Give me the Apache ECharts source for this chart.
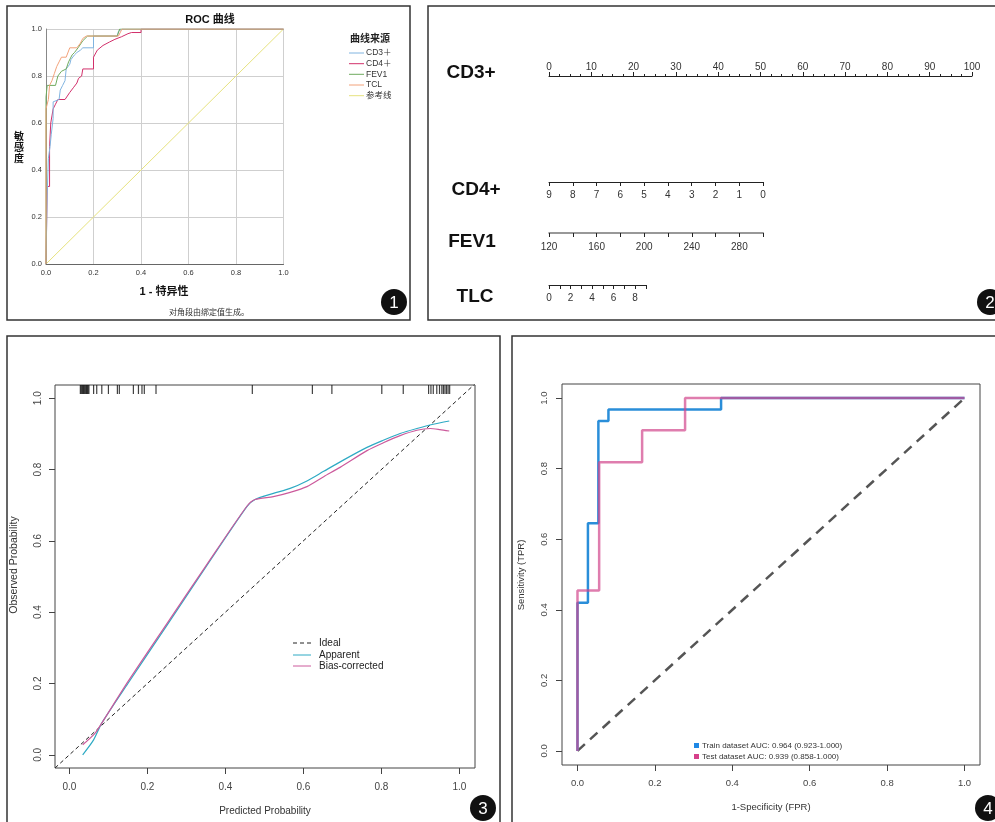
<!DOCTYPE html>
<html><head><meta charset="utf-8">
<script src="https://cdn.jsdelivr.net/npm/echarts@6/dist/echarts.min.js"></script>
<style>html,body{margin:0;padding:0;background:#fff}#c{width:995px;height:822px}</style>
</head><body><div id="c"></div>
<script>
// ---------- Panel 1: SPSS ROC curves ----------
const rocTicks = [0, 0.2, 0.4, 0.6, 0.8, 1.0];
const rocNames = ['CD3＋', 'CD4＋', 'FEV1', 'TCL', '参考线'];
const rocCD3 = [[0,0],[0.005,0.3],[0.01,0.45],[0.017,0.5],[0.022,0.55],[0.03,0.62],[0.03,0.69],[0.055,0.7],[0.06,0.74],[0.07,0.76],[0.08,0.78],[0.085,0.83],[0.1,0.85],[0.105,0.87],[0.12,0.89],[0.13,0.9],[0.145,0.91],[0.155,0.92],[0.2,0.92],[0.2,0.97],[0.3,0.97],[0.305,0.99],[0.32,1],[1,1]];
const rocCD4 = [[0,0],[0.005,0],[0.005,0.33],[0.015,0.33],[0.015,0.5],[0.02,0.6],[0.025,0.63],[0.03,0.66],[0.04,0.68],[0.05,0.7],[0.08,0.7],[0.1,0.73],[0.115,0.75],[0.13,0.77],[0.137,0.79],[0.15,0.8],[0.155,0.83],[0.2,0.83],[0.2,0.88],[0.216,0.91],[0.24,0.93],[0.268,0.945],[0.29,0.956],[0.318,0.967],[0.345,0.98],[0.36,0.985],[0.4,0.985],[0.4,1],[1,1]];
const rocFEV1 = [[0,0],[0,0.71],[0.005,0.71],[0.005,0.76],[0.04,0.76],[0.05,0.8],[0.065,0.82],[0.085,0.83],[0.095,0.86],[0.11,0.89],[0.12,0.9],[0.135,0.92],[0.155,0.95],[0.175,0.97],[0.3,0.97],[0.31,1],[1,1]];
const rocTCL = [[0,0],[0,0.66],[0.01,0.7],[0.015,0.76],[0.025,0.78],[0.035,0.81],[0.045,0.84],[0.055,0.86],[0.065,0.88],[0.085,0.88],[0.1,0.92],[0.13,0.92],[0.145,0.94],[0.155,0.96],[0.17,0.97],[0.305,0.97],[0.32,1],[1,1]];
const rocRef = [[0,0],[1,1]];

// ---------- Panel 2: nomogram scales ----------
const nomoNames = ['CD3+', 'CD4+', 'FEV1', 'TLC'];
const cd3Range = [0, 100];
const cd4Range = [0, 9];
const fev1Range = [120, 300];
const fev1Labels = [120, 160, 200, 240, 280];
const tlcRange = [0, 9];
const tlcLabels = [0, 2, 4, 6, 8];

// ---------- Panel 3: calibration ----------
const calTicks = [0, 0.2, 0.4, 0.6, 0.8, 1.0];
const calNames = ['Ideal', 'Apparent', 'Bias-corrected'];
const calIdeal = [[-0.05,-0.05],[1.05,1.05]];
const calApparent = [[0.034,0.0],[0.062,0.042],[0.083,0.089],[0.15,0.2],[0.25,0.363],[0.35,0.527],[0.455,0.696],[0.476,0.716],[0.523,0.733],[0.566,0.747],[0.609,0.768],[0.652,0.795],[0.70,0.825],[0.763,0.862],[0.805,0.882],[0.848,0.901],[0.891,0.915],[0.933,0.927],[0.974,0.936]];
const calBias = [[0.034,0.028],[0.066,0.061],[0.083,0.089],[0.15,0.205],[0.25,0.368],[0.35,0.53],[0.455,0.697],[0.476,0.716],[0.523,0.724],[0.566,0.736],[0.609,0.752],[0.652,0.78],[0.694,0.806],[0.763,0.853],[0.805,0.875],[0.848,0.895],[0.891,0.91],[0.925,0.915],[0.95,0.912],[0.974,0.908]];
const calRug = [0.028,0.030,0.032,0.034,0.036,0.038,0.040,0.042,0.044,0.046,0.048,0.050,0.062,0.070,0.083,0.100,0.123,0.128,0.164,0.177,0.186,0.192,0.222,0.469,0.623,0.673,0.801,0.856,0.921,0.927,0.933,0.942,0.949,0.955,0.959,0.963,0.967,0.971,0.975];

// ---------- Panel 4: train / test ROC ----------
const roc2Ticks = [0, 0.2, 0.4, 0.6, 0.8, 1.0];
const roc2Names = ['Train dataset AUC: 0.964 (0.923-1.000)', 'Test dataset AUC: 0.939 (0.858-1.000)'];
const rocTrain = [[0,0],[0,0.42],[0.027,0.42],[0.027,0.645],[0.054,0.645],[0.054,0.935],[0.08,0.935],[0.08,0.968],[0.371,0.968],[0.371,1],[1,1]];
const rocTest = [[0,0],[0,0.455],[0.056,0.455],[0.056,0.818],[0.167,0.818],[0.167,0.909],[0.278,0.909],[0.278,1],[1,1]];
const rocChance = [[0,0],[1,1]];

const F = 'Arial, "Liberation Sans", sans-serif';
const FC = '"Noto Sans CJK SC", sans-serif';
const FM = 'Arial, "Liberation Sans", "Noto Sans CJK SC", sans-serif';
const fmt1 = v => v.toFixed(1);

const rocColors = ['#80b4e0', '#d2306b', '#6fab5e', '#f2a27a', '#e6e27e'];
const calColors = ['#222', '#2eaac4', '#cc5a9c'];
const roc2Colors = ['#2a8ed9', '#d2468c'];

function hiddenY(gi) {
  return {gridIndex: gi, type: 'value', show: false, min: 0, max: 1};
}
function nomoX(gi, range, pos, extra) {
  return Object.assign({
    gridIndex: gi, type: 'value', position: pos, min: range[0], max: range[1],
    axisLine: {show: true, onZero: false, lineStyle: {color: '#222', width: 1}},
    axisTick: {show: true, length: 4, lineStyle: {color: '#222'}},
    splitLine: {show: false},
    axisLabel: {fontFamily: F, fontSize: 10, color: '#333', margin: 8, showMinLabel: true, showMaxLabel: true}
  }, extra);
}

const graphics = [];
function txt(x, y, text, font, fill, align, vAlign, rot) {
  graphics.push({type: 'text', x: x, y: y, rotation: rot || 0, z: 50,
    style: {text: text, font: font, fill: fill || '#222', align: align || 'center', verticalAlign: vAlign || 'middle'}});
}
function seg(x1, y1, x2, y2, color, w, dash) {
  graphics.push({type: 'line', z: 50, shape: {x1, y1, x2, y2}, style: {stroke: color, lineWidth: w, lineDash: dash || null}});
}
// panel frames
[[7,6,403,314],[428,6,600,314],[7,336,493,520],[512,336,520,520]].forEach(r => {
  graphics.push({type: 'rect', z: 40, shape: {x: r[0], y: r[1], width: r[2], height: r[3]}, style: {fill: null, stroke: '#333', lineWidth: 1.5}});
});
// panel numbers
[[394,302,'1'],[990,302,'2'],[483,808,'3'],[988,808,'4']].forEach(c => {
  graphics.push({type: 'circle', z: 60, shape: {cx: c[0], cy: c[1], r: 13}, style: {fill: '#111'}});
  graphics.push({type: 'text', z: 61, x: c[0], y: c[1] + 1, style: {text: c[2], font: '17px ' + F, fill: '#fff', align: 'center', verticalAlign: 'middle'}});
});
// panel 1 texts
txt(210, 20, 'ROC 曲线', 'bold 11px ' + FM, '#111');
['敏', '感', '度'].forEach((ch, i) => txt(19, 136 + i * 11, ch, 'bold 10px ' + FC, '#111'));
txt(164, 292, '1 - 特异性', 'bold 11px ' + FM, '#111');
txt(209, 312, '对角段由绑定值生成。', '8px ' + FC, '#333');
txt(370, 38, '曲线来源', 'bold 10px ' + FC, '#222');
const legY1 = [53, 63.7, 74.3, 85, 95.7];
rocNames.forEach((n, i) => {
  seg(349, legY1[i], 364, legY1[i], rocColors[i], 1);
  txt(366, legY1[i], n, '8.5px ' + FM, '#333', 'left');
});
// panel 2 texts
const nomoPos = [[471,73],[476,190],[472,242],[475,297]];
nomoNames.forEach((n, i) => txt(nomoPos[i][0], nomoPos[i][1], n, 'bold 19px ' + F, '#111'));
// panel 3 texts
txt(14, 565, 'Observed Probability', '10.5px ' + F, '#333', 'center', 'middle', Math.PI / 2);
txt(265, 811, 'Predicted Probability', '10px ' + F, '#333');
const legY3 = [643, 655, 666];
calNames.forEach((n, i) => {
  seg(293, legY3[i], 311, legY3[i], calColors[i], 1, i === 0 ? [4, 3] : null);
  txt(319, legY3[i], n, '10px ' + F, '#222', 'left');
});
// panel 4 texts
txt(521, 575, 'Sensitivity (TPR)', '9.5px ' + F, '#333', 'center', 'middle', Math.PI / 2);
txt(771, 807, '1-Specificity (FPR)', '9.5px ' + F, '#333');
const legY4 = [746, 757];
roc2Names.forEach((n, i) => {
  graphics.push({type: 'rect', z: 50, shape: {x: 694, y: legY4[i] - 3, width: 5, height: 5}, style: {fill: i === 0 ? '#1e88e5' : '#d6408a'}});
  txt(702, legY4[i], n, '8px ' + F, '#333', 'left');
});

const lineS = (name, data, xi, color, w, extra) => Object.assign({
  type: 'line', name: name, data: data, xAxisIndex: xi, yAxisIndex: xi,
  showSymbol: false, symbol: 'none', animation: false, silent: true,
  lineStyle: {color: color, width: w}
}, extra || {});

const rAxis = (gi, min, max, ticks, size, margin, rot) => ({
  gridIndex: gi, type: 'value', min: min, max: max,
  axisLine: {show: false, onZero: false}, splitLine: {show: false},
  axisTick: {show: true, length: 6, customValues: ticks, lineStyle: {color: '#444'}},
  axisLabel: {customValues: ticks, formatter: fmt1, rotate: rot || 0, fontFamily: F, fontSize: size, color: '#444', margin: margin}
});

const option = {
  animation: false,
  backgroundColor: '#fff',
  grid: [
    {left: 46, top: 29, width: 237.5, height: 235},
    {left: 549, top: 76, width: 423, height: 1},
    {left: 549, top: 181, width: 214, height: 1},
    {left: 549, top: 232, width: 214.2, height: 1},
    {left: 549, top: 284, width: 96.75, height: 1},
    {left: 55, top: 385, width: 420, height: 383, show: true, borderColor: '#444', borderWidth: 1},
    {left: 562, top: 384, width: 418, height: 381, show: true, borderColor: '#444', borderWidth: 1}
  ],
  xAxis: [
    {gridIndex: 0, type: 'value', min: 0, max: 1, interval: 0.2,
      axisLine: {show: true, onZero: false, lineStyle: {color: '#666'}}, axisTick: {show: false},
      splitLine: {show: true, lineStyle: {color: '#cfcfcf'}},
      axisLabel: {formatter: fmt1, fontFamily: F, fontSize: 7.5, color: '#333', margin: 5}},
    nomoX(1, cd3Range, 'top', {interval: 10,
      minorTick: {show: true, splitNumber: 4, length: 2, lineStyle: {color: '#222'}},
      axisLabel: {fontFamily: F, fontSize: 10, color: '#333', margin: 4}}),
    nomoX(2, cd4Range, 'bottom', {interval: 1, inverse: true}),
    nomoX(3, fev1Range, 'bottom', {interval: 20,
      axisLine: {show: true, onZero: false, lineStyle: {color: '#777', width: 1.6}},
      axisLabel: {fontFamily: F, fontSize: 10, color: '#333', margin: 9,
        formatter: v => fev1Labels.indexOf(v) >= 0 ? String(v) : ''}}),
    nomoX(4, tlcRange, 'bottom', {interval: 1,
      axisLabel: {fontFamily: F, fontSize: 10, color: '#333', margin: 8,
        formatter: v => tlcLabels.indexOf(v) >= 0 ? String(v) : ''}}),
    rAxis(5, -0.037, 1.04, calTicks, 10, 14),
    rAxis(6, -0.04, 1.04, roc2Ticks, 9.5, 13)
  ],
  yAxis: [
    {gridIndex: 0, type: 'value', min: 0, max: 1, interval: 0.2,
      axisLine: {show: true, onZero: false, lineStyle: {color: '#888'}}, axisTick: {show: false},
      splitLine: {show: true, lineStyle: {color: '#cfcfcf'}},
      axisLabel: {formatter: fmt1, fontFamily: F, fontSize: 7.5, color: '#333', margin: 4}},
    hiddenY(1), hiddenY(2), hiddenY(3), hiddenY(4),
    rAxis(5, -0.037, 1.037, calTicks, 10, 12, 90),
    rAxis(6, -0.04, 1.04, roc2Ticks, 9.5, 13, 90)
  ],
  series: [
    lineS('参考线', rocRef, 0, rocColors[4], 1),
    lineS('CD4＋', rocCD4, 0, rocColors[1], 1),
    lineS('CD3＋', rocCD3, 0, rocColors[0], 1),
    lineS('FEV1', rocFEV1, 0, rocColors[2], 1),
    lineS('TCL', rocTCL, 0, rocColors[3], 1),
    lineS('Ideal', calIdeal, 5, calColors[0], 1, {lineStyle: {color: calColors[0], width: 1, type: [4, 3]}}),
    lineS('Apparent', calApparent, 5, calColors[1], 1.2, {smooth: 0.25}),
    lineS('Bias-corrected', calBias, 5, calColors[2], 1.2, {smooth: 0.25}),
    {type: 'scatter', name: 'rug', xAxisIndex: 5, yAxisIndex: 5, silent: true,
      data: calRug.map(v => [v, 1.037]), symbol: 'rect', symbolSize: [1.2, 9], symbolOffset: [0, 4.5],
      itemStyle: {color: '#111'}},
    lineS('chance', rocChance, 6, '#555', 2.5, {lineStyle: {color: '#555', width: 2.5, type: [10, 7]}}),
    lineS('Train', rocTrain, 6, roc2Colors[0], 2.5),
    lineS('Test', rocTest, 6, roc2Colors[1], 2.5, {lineStyle: {color: roc2Colors[1], width: 2.5, opacity: 0.7}})
  ],
  graphic: graphics
};

const chart = echarts.init(document.getElementById('c'), null, {renderer: 'canvas'});
chart.setOption(option);
</script>
</body></html>
